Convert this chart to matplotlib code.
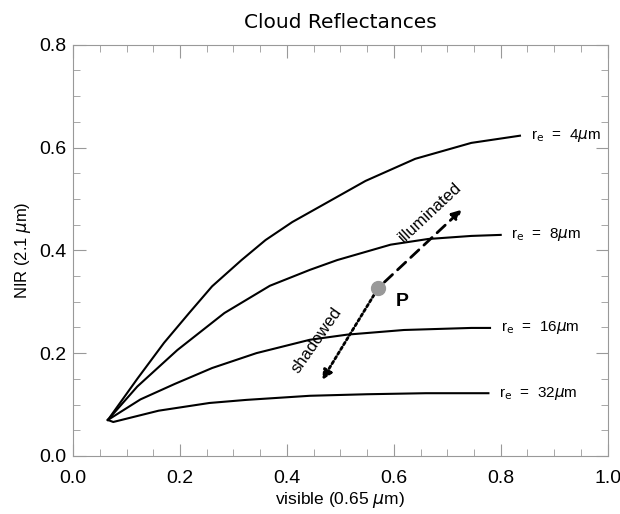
import matplotlib
matplotlib.use("Agg")
import matplotlib.pyplot as plt
from matplotlib.ticker import MultipleLocator

plt.rcParams["font.family"] = ["Liberation Sans", "DejaVu Sans"]

# reflectance curves
x_4 = [0.065, 0.12, 0.17, 0.217, 0.26, 0.315, 0.36, 0.41, 0.47, 0.547, 0.64, 0.745, 0.836]
y_4 = [0.07, 0.15, 0.22, 0.278, 0.33, 0.381, 0.42, 0.455, 0.49, 0.535, 0.578, 0.609, 0.623]

x_8 = [0.065, 0.12, 0.195, 0.283, 0.368, 0.443, 0.494, 0.594, 0.664, 0.745, 0.80]
y_8 = [0.07, 0.135, 0.206, 0.278, 0.331, 0.362, 0.381, 0.411, 0.422, 0.428, 0.43]

x_16 = [0.065, 0.126, 0.19, 0.26, 0.343, 0.443, 0.513, 0.619, 0.745, 0.78]
y_16 = [0.07, 0.11, 0.14, 0.171, 0.200, 0.226, 0.236, 0.245, 0.249, 0.249]

x_32 = [0.065, 0.075, 0.16, 0.255, 0.324, 0.443, 0.55, 0.66, 0.777]
y_32 = [0.07, 0.066, 0.088, 0.103, 0.109, 0.117, 0.12, 0.122, 0.122]

labels = [r"r$_{\rm e}$  =  4$\mu$m", r"r$_{\rm e}$  =  8$\mu$m",
          r"r$_{\rm e}$  =  16$\mu$m", r"r$_{\rm e}$  =  32$\mu$m"]

p_x, p_y = 0.571, 0.327
lit_end = (0.727, 0.479)
shade_end = (0.466, 0.148)

fig = plt.figure(figsize=(6.2, 5.14), dpi=100)
ax = fig.add_axes([0.118, 0.113, 0.862, 0.80])

curves = [(x_4, y_4), (x_8, y_8), (x_16, y_16), (x_32, y_32)]
for (xs, ys), lab in zip(curves, labels):
    ax.plot(xs, ys, color="black", lw=1.5)
    ax.text(xs[-1] + 0.02, ys[-1], lab, fontsize=11, va="center", ha="left")

# point P and the two arrows
ax.annotate("", xy=lit_end, xytext=(p_x, p_y),
            arrowprops=dict(arrowstyle="-|>", color="black", lw=2,
                            linestyle=(0, (4, 2.5)), mutation_scale=14, shrinkA=6, shrinkB=0))
ax.annotate("", xy=shade_end, xytext=(p_x, p_y),
            arrowprops=dict(arrowstyle="-|>", color="black", lw=2,
                            linestyle=(0, (1, 1)), mutation_scale=14, shrinkA=6, shrinkB=0))
ax.plot([p_x], [p_y], "o", color="#999999", markersize=10, zorder=5)
ax.text(0.615, 0.30, "P", fontsize=14, fontweight="bold", ha="center", va="center")
ax.text(0.668, 0.474, "illuminated", fontsize=12, rotation=43, ha="center", va="center")
ax.text(0.455, 0.225, "shadowed", fontsize=12, rotation=55, ha="center", va="center")

ax.set_xlim(0, 1.0)
ax.set_ylim(0, 0.8)
ax.xaxis.set_major_locator(MultipleLocator(0.2))
ax.xaxis.set_minor_locator(MultipleLocator(0.05))
ax.yaxis.set_major_locator(MultipleLocator(0.2))
ax.yaxis.set_minor_locator(MultipleLocator(0.05))
ax.tick_params(which="both", direction="in", top=True, right=True, color="#999999", labelsize=14)
ax.tick_params(which="major", length=9)
ax.tick_params(which="minor", length=5)
ax.tick_params(axis="x", which="major", pad=10)
ax.tick_params(axis="y", which="major", pad=5)
for s in ax.spines.values():
    s.set_color("#999999")

ax.set_title("Cloud Reflectances", fontsize=14.5, pad=12, family="DejaVu Sans")
ax.set_xlabel(r"visible (0.65 $\mu$m)", fontsize=12.5, labelpad=2)
ax.set_ylabel(r"NIR (2.1 $\mu$m)", fontsize=12, labelpad=4)

fig.savefig("out.png", dpi=100)
